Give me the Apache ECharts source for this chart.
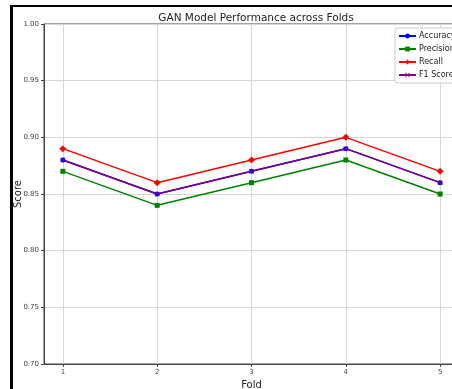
<!DOCTYPE html>
<html>
<head>
<meta charset="utf-8">
<script src="https://cdn.jsdelivr.net/npm/echarts@6/dist/echarts.min.js"></script>
<style>
html,body{margin:0;padding:0;background:#fff;}
#c{width:452px;height:389px;}
</style>
</head>
<body>
<div id="c"></div>
<script>
const folds = [1, 2, 3, 4, 5];
const accuracy = [0.88, 0.85, 0.87, 0.89, 0.86];
const precision = [0.87, 0.84, 0.86, 0.88, 0.85];
const recall = [0.89, 0.86, 0.88, 0.90, 0.87];
const f1Score = [0.88, 0.85, 0.87, 0.89, 0.86];
const yTicks = [0.70, 0.75, 0.80, 0.85, 0.90, 0.95, 1.00];

const FONT = 'DejaVu Sans';
const xMarker = 'path://M0,1L1,0L5,4L9,0L10,1L6,5L10,9L9,10L5,6L1,10L0,9L4,5Z';

function pts(vals) { return folds.map((f, i) => [f, vals[i]]); }

function mk(name, vals, color, symbol, size) {
  return {
    name: name, type: 'line', data: pts(vals),
    symbol: symbol, symbolSize: size, showSymbol: true,
    lineStyle: { color: color, width: 1.5 },
    itemStyle: { color: color, borderWidth: 0 },
    emphasis: { disabled: true },
    animation: false
  };
}

const chart = echarts.init(document.getElementById('c'), null, { renderer: 'canvas' });
chart.setOption({
  backgroundColor: '#ffffff',
  animation: false,
  title: {
    text: 'GAN Model Performance across Folds',
    left: 251, top: 8, textAlign: 'center',
    textStyle: { fontFamily: FONT, fontSize: 10.5, fontWeight: 'normal', color: '#222' }
  },
  grid: {
    left: 44, top: 24, right: -7, bottom: 25,
    containLabel: false, outerBoundsMode: 'none',
    show: true, borderColor: '#444', borderWidth: 1, backgroundColor: 'transparent'
  },
  legend: {
    orient: 'vertical', left: 395, top: 28,
    data: ['Accuracy', 'Precision', 'Recall', 'F1 Score'],
    itemWidth: 17, itemHeight: 6, itemGap: 5,
    padding: [4, 6, 4, 3],
    backgroundColor: '#fff', borderColor: '#ccc', borderWidth: 1, borderRadius: 3,
    textStyle: { fontFamily: FONT, fontSize: 8, color: '#222', padding: [0, 0, 0, -2] }
  },
  xAxis: {
    type: 'value', min: 0.8, max: 5.2,
    name: 'Fold', nameLocation: 'middle', nameGap: 16, nameMoveOverlap: false,
    nameTextStyle: { fontFamily: FONT, fontSize: 10, color: '#222' },
    axisLine: { show: true, lineStyle: { color: '#444', width: 1 } },
    axisTick: { show: true, length: 3, customValues: folds, lineStyle: { color: '#444' } },
    axisLabel: { customValues: folds, fontFamily: FONT, fontSize: 7, color: '#444', margin: 5 },
    splitLine: { show: true, lineStyle: { color: '#d6d6d6', width: 1 } }
  },
  yAxis: {
    type: 'value', min: 0.70, max: 1.00, interval: 0.05,
    name: 'Score', nameLocation: 'middle', nameGap: 21, nameRotate: 90, nameMoveOverlap: false,
    nameTextStyle: { fontFamily: FONT, fontSize: 10, color: '#222' },
    axisLine: { show: true, lineStyle: { color: '#444', width: 1 } },
    axisTick: { show: true, length: 3, lineStyle: { color: '#444' } },
    axisLabel: {
      customValues: yTicks,
      fontFamily: FONT, fontSize: 7, color: '#444', margin: 5,
      formatter: v => v.toFixed(2)
    },
    splitLine: { show: true, lineStyle: { color: '#d6d6d6', width: 1 } }
  },
  series: [
    mk('Accuracy', accuracy, '#0000ff', 'circle', 5),
    mk('Precision', precision, '#008000', 'rect', 5),
    mk('Recall', recall, '#ff0000', 'diamond', 7),
    mk('F1 Score', f1Score, '#800080', xMarker, 5)
  ],
  graphic: [
    { type: 'rect', shape: { x: 10, y: 5, width: 3, height: 400 }, style: { fill: '#000' }, z: 100 },
    { type: 'rect', shape: { x: 10, y: 5, width: 460, height: 2 }, style: { fill: '#000' }, z: 100 }
  ]
});
</script>
</body>
</html>
